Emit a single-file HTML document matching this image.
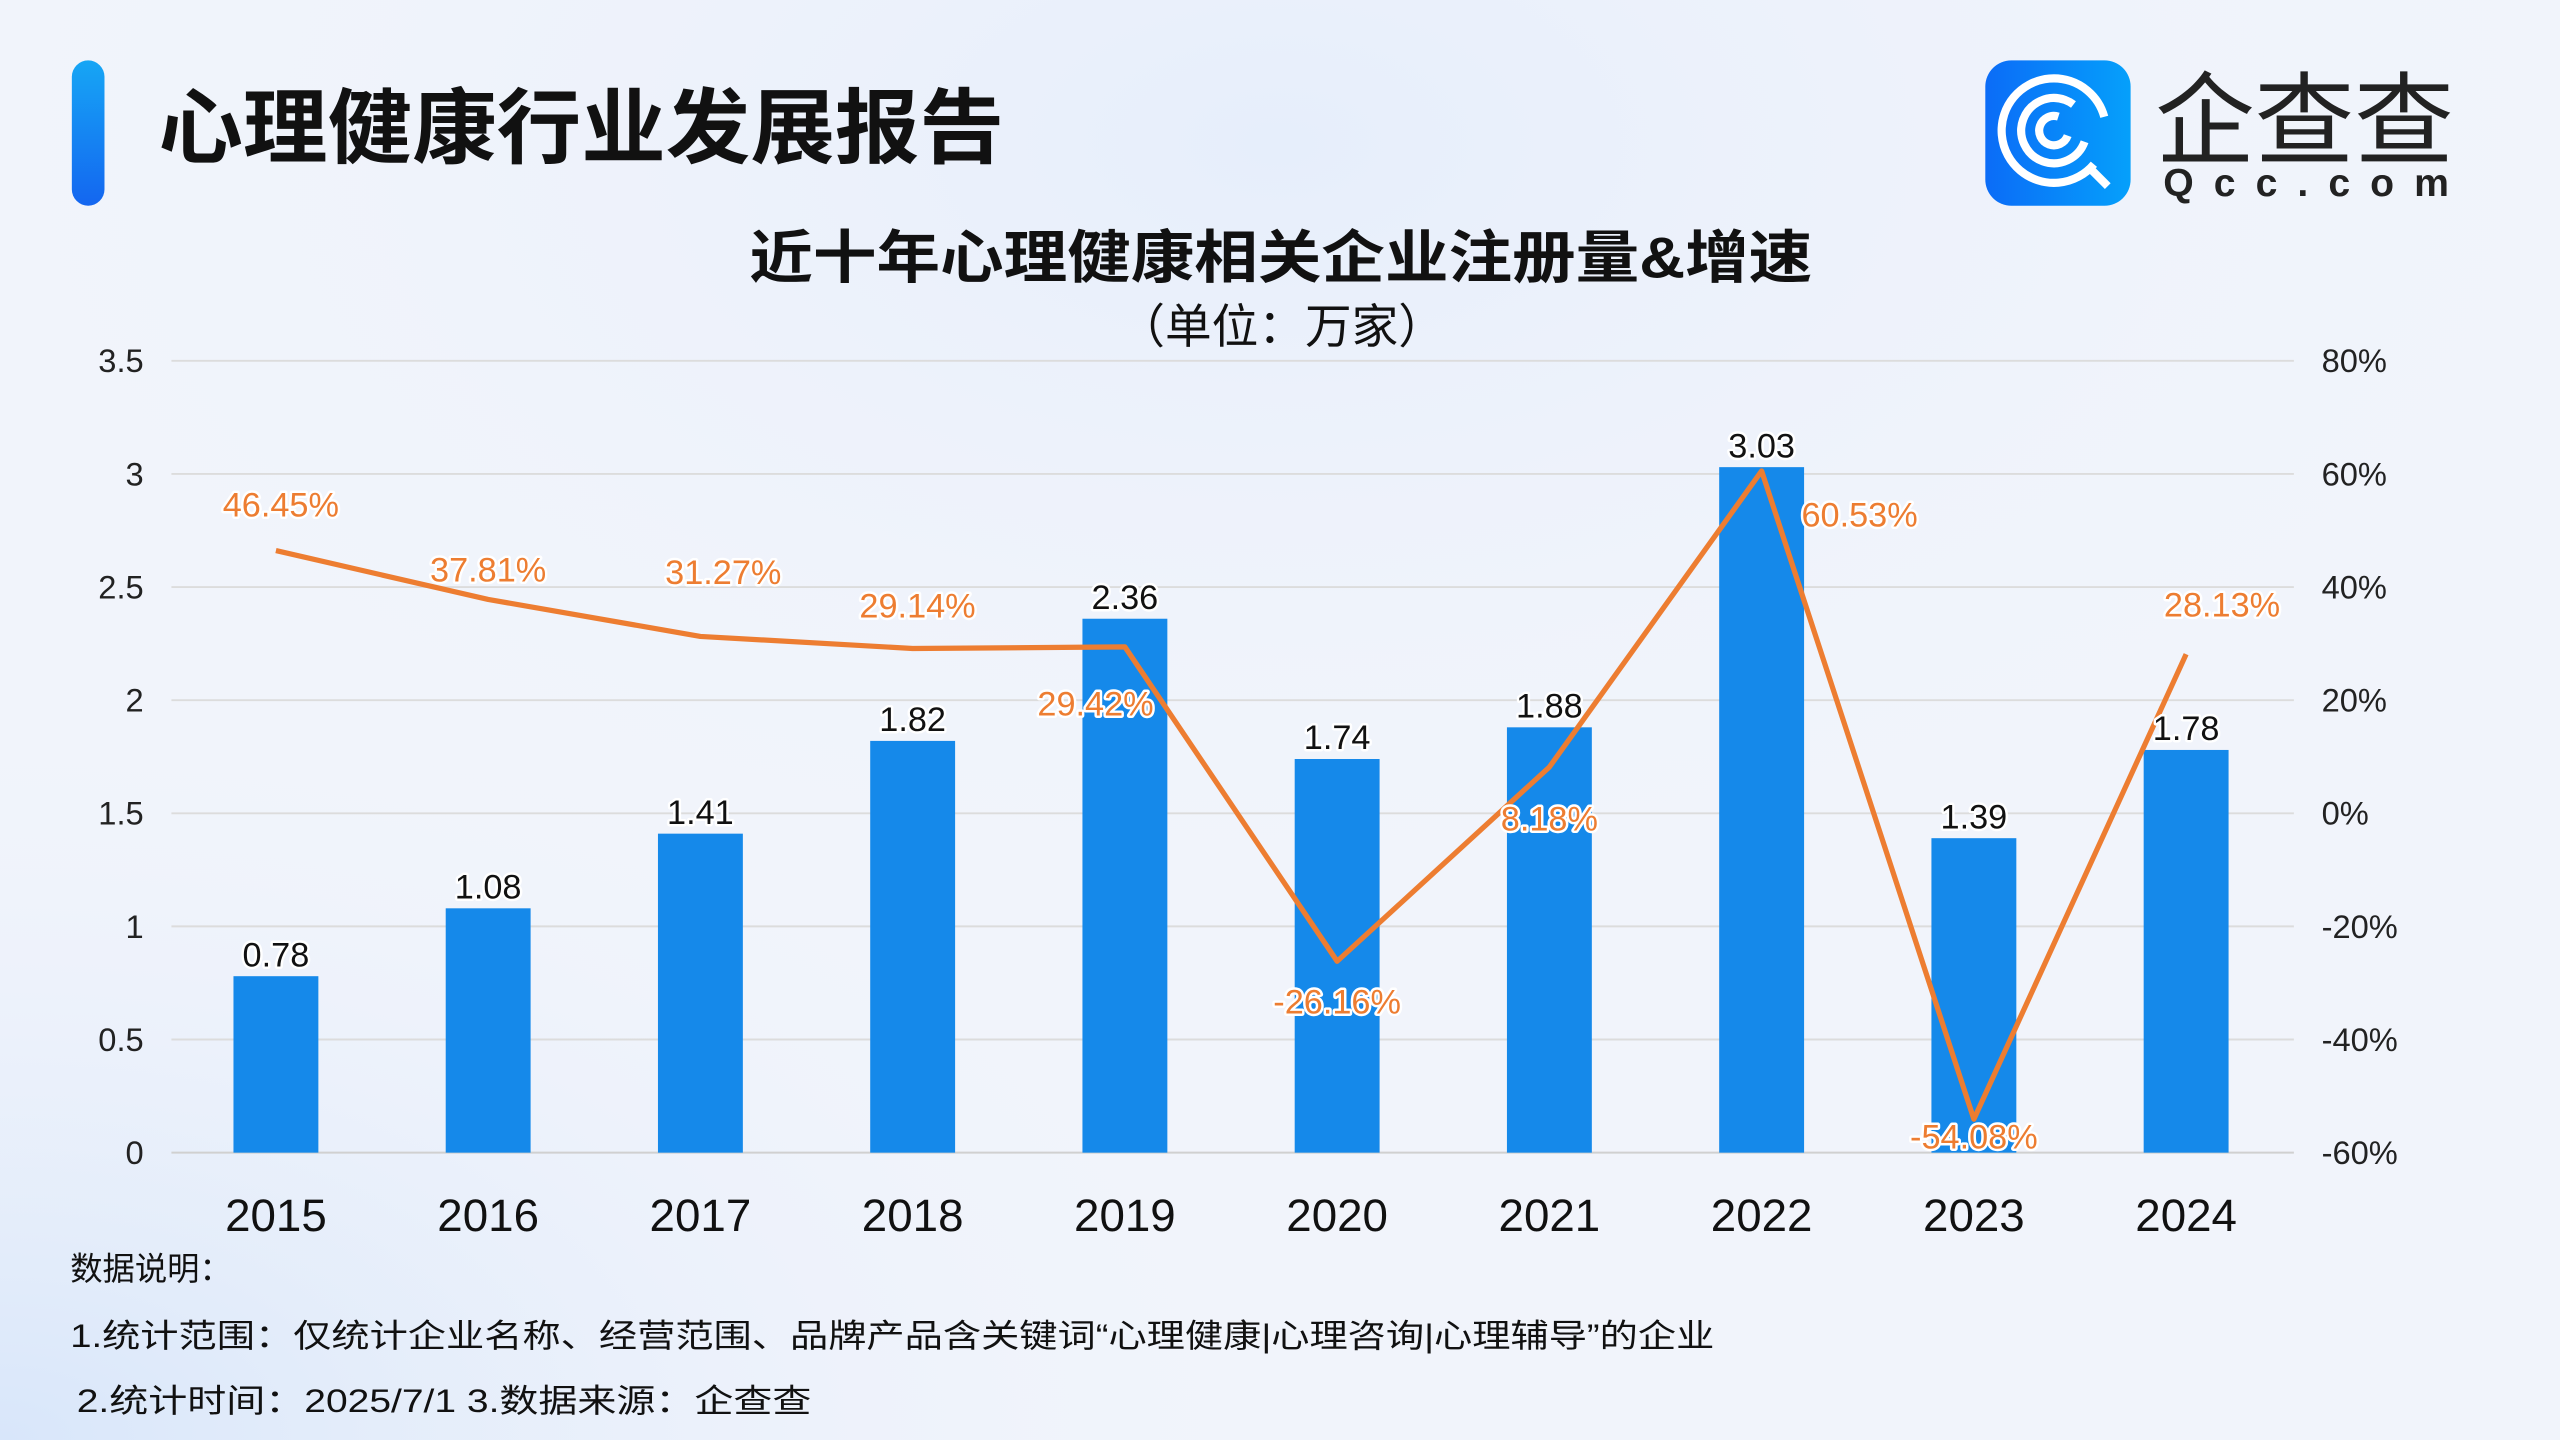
<!DOCTYPE html>
<html><head><meta charset="utf-8"><style>
html,body{margin:0;padding:0;width:2560px;height:1440px;overflow:hidden;background:#eef3fb;}
svg{display:block;font-family:"Liberation Sans","Noto Sans CJK SC",sans-serif;}
.halo{paint-order:stroke;stroke:#fff;stroke-width:3px;stroke-linejoin:round;}
</style></head><body>
<svg id="chart" width="2560" height="1440" viewBox="0 0 1568 882" xmlns="http://www.w3.org/2000/svg">
<defs>
<radialGradient id="bg1" cx="0.5" cy="0.1" r="0.6"><stop offset="0" stop-color="#e6eefb"/><stop offset="1" stop-color="#f2f5fc" stop-opacity="0"/></radialGradient>
<radialGradient id="bg2" cx="0" cy="1" r="0.5"><stop offset="0" stop-color="#d8e6fa"/><stop offset="1" stop-color="#eef3fb" stop-opacity="0"/></radialGradient>
<linearGradient id="accent" x1="0" y1="0" x2="0" y2="1"><stop offset="0" stop-color="#16a6f5"/><stop offset="1" stop-color="#1466f0"/></linearGradient>
<linearGradient id="logoG" x1="0" y1="0" x2="1" y2="0"><stop offset="0" stop-color="#0b6cf7"/><stop offset="1" stop-color="#05a0fb"/></linearGradient>
</defs>
<rect width="1568" height="882" fill="#f1f4fb"/>
<rect width="1568" height="882" fill="url(#bg1)"/>
<rect width="1568" height="882" fill="url(#bg2)"/>

<rect x="44" y="37" width="20" height="89" rx="10" fill="url(#accent)"/>
<text x="97" y="96" font-size="50" font-weight="bold" fill="#111" textLength="518" lengthAdjust="spacingAndGlyphs">心理健康行业发展报告</text>

<g>
<rect x="1216" y="37" width="89" height="89" rx="16" fill="url(#logoG)"/>
<circle cx="1258" cy="80" r="32" fill="none" stroke="#fff" stroke-width="5" stroke-dasharray="170 31" transform="rotate(40 1258 80)"/>
<circle cx="1258" cy="80" r="20" fill="none" stroke="#fff" stroke-width="5" stroke-dasharray="100 26" transform="rotate(20 1258 80)"/>
<circle cx="1258" cy="80" r="9" fill="none" stroke="#fff" stroke-width="5" stroke-dasharray="42 15" transform="rotate(20 1258 80)"/>
<line x1="1279" y1="102" x2="1291" y2="114" stroke="#fff" stroke-width="5"/>
<text x="1320" y="96" font-size="62" fill="#222" textLength="183" lengthAdjust="spacingAndGlyphs">企查查</text>
<text x="1325" y="120" font-size="24" font-weight="bold" fill="#222" textLength="175">Qcc.com</text>
</g>

<text x="459" y="170" font-size="35" font-weight="bold" fill="#111" textLength="651" lengthAdjust="spacingAndGlyphs">近十年心理健康相关企业注册量&amp;增速</text>
<text x="685" y="210" font-size="29" fill="#111" textLength="200" lengthAdjust="spacingAndGlyphs">（单位：万家）</text>

<g id="grid"></g><g id="bars"></g><g id="line"></g><g id="labels"></g>

<text x="43" y="784" font-size="20" fill="#111" textLength="99" lengthAdjust="spacingAndGlyphs">数据说明：</text>
<text x="43" y="825" font-size="20" fill="#111" textLength="1007" lengthAdjust="spacingAndGlyphs">1.统计范围：仅统计企业名称、经营范围、品牌产品含关键词“心理健康|心理咨询|心理辅导”的企业</text>
<text x="47" y="865" font-size="20" fill="#111" textLength="450" lengthAdjust="spacingAndGlyphs">2.统计时间：2025/7/1  3.数据来源：企查查</text>
</svg>
<script>
const categories = ["2015","2016","2017","2018","2019","2020","2021","2022","2023","2024"];
const counts = [0.78,1.08,1.41,1.82,2.36,1.74,1.88,3.03,1.39,1.78];
const growth = [46.45,37.81,31.27,29.14,29.42,-26.16,8.18,60.53,-54.08,28.13];
const leftTicks = [0,0.5,1,1.5,2,2.5,3,3.5];
const rightTicks = [-60,-40,-20,0,20,40,60,80];
// presentational label offsets (px) for growth labels
const gLabDx = [3,0,14,3,-18,0,0,60,0,22];
const gLabDy = [-21,-11,-32,-19,42,32,39,34,18,-23];

const NS="http://www.w3.org/2000/svg";
const X0=105,X1=1405,Ytop=221,Ybot=706;
const yL=v=>Ybot-(v-0)/(3.5-0)*(Ybot-Ytop);
const yR=v=>Ybot-(v+60)/(140)*(Ybot-Ytop);
const step=(X1-X0)/categories.length;
const xC=i=>X0+step*(i+0.5)-1;
function mk(tag,attrs,parent,txt){const e=document.createElementNS(NS,tag);for(const k in attrs)e.setAttribute(k,attrs[k]);if(txt!==undefined)e.textContent=txt;parent.appendChild(e);return e;}
const grid=document.getElementById('grid'),bars=document.getElementById('bars'),line=document.getElementById('line'),labels=document.getElementById('labels');

leftTicks.forEach(t=>{
  const g=mk('line',{x1:X0,x2:X1,y1:yL(t),y2:yL(t),stroke:t===0?'#d0d0d0':'#dcdcdc','stroke-width':1.2},grid);
  
  
  const l=mk('text',{x:88,y:yL(t)+7,'font-size':20,'text-anchor':'end',fill:'#222'},grid,String(t));
  
  
});
rightTicks.forEach(t=>{
  const l=mk('text',{x:1422,y:yR(t)+7,'font-size':20,fill:'#222'},grid,t+'%');
  
  
});
const bw=52;
categories.forEach((c,i)=>{
  const b=mk('rect',{x:xC(i)-bw/2,y:yL(counts[i]),width:bw,height:yL(0)-yL(counts[i]),fill:'#1589ea'},bars);
  
  
  const xl=mk('text',{x:xC(i),y:754,'font-size':28,'text-anchor':'middle',fill:'#111'},labels,c);
  
  
  const bl=mk('text',{x:xC(i),y:yL(counts[i])-6,'font-size':21,'text-anchor':'middle',fill:'#111',class:'halo'},labels,counts[i].toFixed(2));
  
  
});
const pts=growth.map((g,i)=>xC(i)+','+yR(g)).join(' ');
const pl=mk('polyline',{points:pts,fill:'none',stroke:'#ed7d31','stroke-width':3.2,'stroke-linejoin':'round'},line);


growth.forEach((g,i)=>{
  const t=mk('text',{x:xC(i)+gLabDx[i],y:yR(g)+gLabDy[i],'font-size':21,'text-anchor':'middle',fill:'#ed7d31',class:'halo'},labels,g.toFixed(2)+'%');
  
  
});
</script>
</body></html>
